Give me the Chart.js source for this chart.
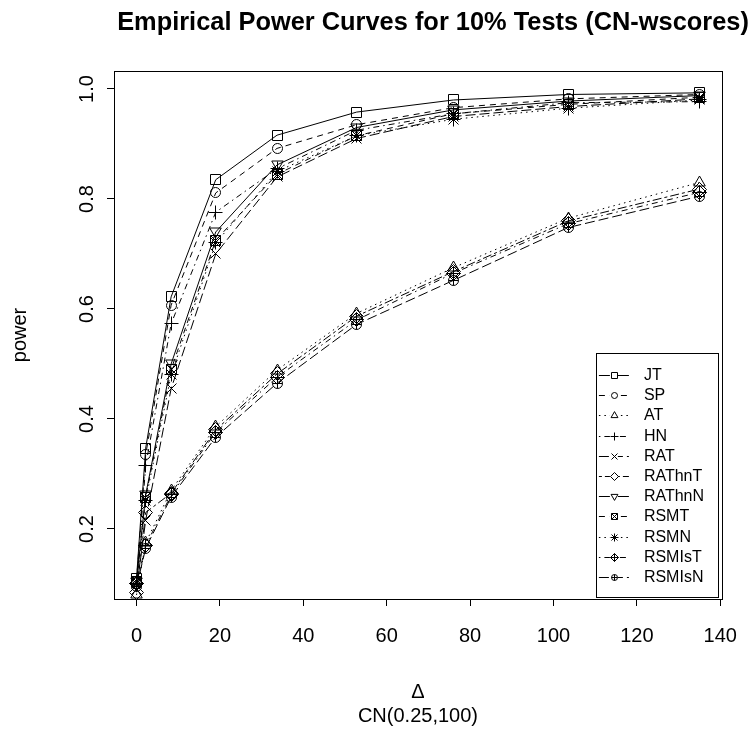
<!DOCTYPE html>
<html>
<head>
<meta charset="utf-8">
<title>Empirical Power Curves</title>
<script src="https://cdn.jsdelivr.net/npm/chart.js@4.4.1/dist/chart.umd.min.js"></script>
<style>
  html, body { margin: 0; padding: 0; background: #fff; }
  canvas { display: block; }
</style>
</head>
<body>
<canvas id="powerChart" width="755" height="738"></canvas>
<script>
// shift values (x axis)
var deltas = [0, 2.2, 8.3, 19, 33.7, 52.8, 76, 103.5, 135];

// empirical power, one array per test
var JT     = [0.110, 0.347, 0.622, 0.835, 0.916, 0.958, 0.980, 0.990, 0.993];
var SP     = [0.105, 0.335, 0.607, 0.811, 0.892, 0.935, 0.966, 0.982, 0.990];
var AT     = [0.080, 0.175, 0.270, 0.386, 0.489, 0.592, 0.675, 0.765, 0.830];
var HN     = [0.100, 0.315, 0.573, 0.776, 0.855, 0.925, 0.955, 0.975, 0.977];
var RAT    = [0.090, 0.216, 0.455, 0.700, 0.840, 0.910, 0.950, 0.968, 0.982];
var RAThnT = [0.085, 0.230, 0.265, 0.380, 0.482, 0.587, 0.668, 0.760, 0.818];
var RAThnN = [0.105, 0.262, 0.500, 0.740, 0.862, 0.930, 0.962, 0.978, 0.988];
var RSMT   = [0.105, 0.258, 0.490, 0.725, 0.845, 0.915, 0.955, 0.972, 0.985];
var RSMN   = [0.100, 0.252, 0.480, 0.720, 0.850, 0.915, 0.945, 0.965, 0.980];
var RSMIsT = [0.100, 0.170, 0.262, 0.376, 0.476, 0.580, 0.665, 0.755, 0.812];
var RSMIsN = [0.095, 0.165, 0.258, 0.367, 0.465, 0.572, 0.652, 0.748, 0.805];

var testNames = ['JT', 'SP', 'AT', 'HN', 'RAT', 'RAThnT', 'RAThnN', 'RSMT', 'RSMN', 'RSMIsT', 'RSMIsN'];
var testPower = [JT, SP, AT, HN, RAT, RAThnT, RAThnN, RSMT, RSMN, RSMIsT, RSMIsN];

// tick labels
var xTicks = [0, 20, 40, 60, 80, 100, 120, 140];
var yTicks = [0.2, 0.4, 0.6, 0.8, 1.0];

var FONT = '"Liberation Sans", Arial, sans-serif';

// R style line types, cycling 1..6
var dashes = [
  [],
  [6, 5],
  [1.5, 4],
  [1.5, 4, 6, 4],
  [10, 4],
  [3, 3, 9, 3]
];

// R pch style symbols 0..10
function drawSymbol(ctx, pch, x, y, s) {
  var d = Math.round(s * 1.4);
  ctx.beginPath();
  if (pch === 0 || pch === 7) {
    ctx.rect(x - s, y - s, 2 * s, 2 * s);
  }
  if (pch === 1 || pch === 10) {
    ctx.arc(x, y, s, 0, 2 * Math.PI);
  }
  if (pch === 2) {
    ctx.moveTo(x, y - 1.3 * s);
    ctx.lineTo(x + 1.15 * s, y + 0.7 * s);
    ctx.lineTo(x - 1.15 * s, y + 0.7 * s);
    ctx.closePath();
  }
  if (pch === 6) {
    ctx.moveTo(x, y + 1.3 * s);
    ctx.lineTo(x + 1.15 * s, y - 0.7 * s);
    ctx.lineTo(x - 1.15 * s, y - 0.7 * s);
    ctx.closePath();
  }
  if (pch === 5 || pch === 9) {
    ctx.moveTo(x, y - d);
    ctx.lineTo(x + d, y);
    ctx.lineTo(x, y + d);
    ctx.lineTo(x - d, y);
    ctx.closePath();
  }
  if (pch === 3 || pch === 8 || pch === 9) {
    ctx.moveTo(x - d, y); ctx.lineTo(x + d, y);
    ctx.moveTo(x, y - d); ctx.lineTo(x, y + d);
  }
  if (pch === 10) {
    ctx.moveTo(x - s, y); ctx.lineTo(x + s, y);
    ctx.moveTo(x, y - s); ctx.lineTo(x, y + s);
  }
  if (pch === 4 || pch === 7 || pch === 8) {
    ctx.moveTo(x - s, y - s); ctx.lineTo(x + s, y + s);
    ctx.moveTo(x + s, y - s); ctx.lineTo(x - s, y + s);
  }
  ctx.stroke();
}

// symbol drawn once on a small canvas, used as the point style
function symbolImage(pch, s) {
  var c = document.createElement('canvas');
  var n = 2 * Math.ceil(1.5 * s) + 3;
  c.width = n;
  c.height = n;
  var g = c.getContext('2d');
  g.strokeStyle = '#000';
  g.lineWidth = 1;
  drawSymbol(g, pch, n / 2, n / 2, s);
  return c;
}

var datasets = testNames.map(function (name, i) {
  return {
    label: name,
    data: deltas.map(function (d, j) { return { x: d, y: testPower[i][j] }; }),
    borderColor: '#000',
    borderWidth: 1,
    borderDash: dashes[i % 6],
    backgroundColor: 'rgba(0,0,0,0)',
    pointStyle: symbolImage(i, 5),
    pointRadius: 5,
    pch: i,
    tension: 0,
    fill: false
  };
});

var rDecor = {
  id: 'rDecor',
  beforeDatasetsDraw: function (chart) {
    chart.ctx.imageSmoothingEnabled = false;
  },
  afterDraw: function (chart) {
    var ctx = chart.ctx;
    var ca = chart.chartArea;
    var ys = chart.scales.y;
    ctx.save();

    // plot frame
    ctx.strokeStyle = '#000';
    ctx.lineWidth = 1;
    ctx.strokeRect(Math.round(ca.left) + 0.5, Math.round(ca.top) + 0.5,
      Math.round(ca.right - ca.left), Math.round(ca.bottom - ca.top));

    // main title
    ctx.fillStyle = '#000';
    ctx.font = 'bold 25.4px ' + FONT;
    ctx.textAlign = 'center';
    ctx.textBaseline = 'middle';
    ctx.fillText('Empirical Power Curves for 10% Tests (CN-wscores)', 433, 23);

    // y tick labels, rotated like R
    ctx.font = '20px ' + FONT;
    yTicks.forEach(function (v) {
      var py = ys.getPixelForValue(v);
      ctx.save();
      ctx.translate(ca.left - 27, py);
      ctx.rotate(-Math.PI / 2);
      ctx.fillText(v.toFixed(1), 0, 0);
      ctx.restore();
    });

    // legend box, bottom right of the plot
    var lw = 122, lh = 244;
    var lx = ca.right - 4 - lw;
    var ly = ca.bottom - 2 - lh;
    ctx.fillStyle = '#fff';
    ctx.fillRect(lx, ly, lw, lh);
    ctx.strokeRect(Math.round(lx) + 0.5, Math.round(ly) + 0.5, lw, lh);
    ctx.font = '16px ' + FONT;
    ctx.textAlign = 'left';
    chart.data.datasets.forEach(function (ds, i) {
      var yy = Math.round(ly + 22 + i * 20.2) + 0.5;
      ctx.setLineDash(ds.borderDash);
      ctx.beginPath();
      ctx.moveTo(lx + 3, yy);
      ctx.lineTo(lx + 33, yy);
      ctx.stroke();
      ctx.setLineDash([]);
      ctx.fillStyle = '#fff';
      ctx.fillRect(lx + 14, yy - 4, 8, 8);
      drawSymbol(ctx, ds.pch, Math.round(lx + 18) + 0.5, yy, 3);
      ctx.fillStyle = '#000';
      ctx.fillText(ds.label, lx + 48, yy);
    });
    ctx.restore();
  }
};

new Chart(document.getElementById('powerChart'), {
  type: 'line',
  data: { datasets: datasets },
  options: {
    responsive: false,
    animation: false,
    devicePixelRatio: 1,
    layout: {
      padding: { top: 71, right: 32, left: 0, bottom: 0 }
    },
    plugins: {
      legend: { display: false },
      tooltip: { enabled: false },
      title: { display: false }
    },
    scales: {
      x: {
        type: 'linear',
        min: -5.4,
        max: 140.4,
        afterBuildTicks: function (scale) {
          scale.ticks = xTicks.map(function (v) { return { value: v }; });
        },
        afterFit: function (scale) { scale.height = 139; },
        grid: { drawOnChartArea: false, drawTicks: true, tickLength: 7, color: '#000' },
        border: { display: true, color: '#000' },
        ticks: { color: '#000', font: { family: FONT, size: 20 }, padding: 18, maxRotation: 0, autoSkip: false },
        title: {
          display: true,
          text: ['\u0394', 'CN(0.25,100)'],
          color: '#000',
          font: { family: FONT, size: 20, lineHeight: 1.2 },
          padding: { top: 0, bottom: 10 }
        }
      },
      y: {
        type: 'linear',
        min: 0.0727,
        max: 1.0327,
        afterBuildTicks: function (scale) {
          scale.ticks = yTicks.map(function (v) { return { value: v }; });
        },
        afterFit: function (scale) { scale.width = 114; },
        grid: { drawOnChartArea: false, drawTicks: true, tickLength: 7, color: '#000' },
        border: { display: true, color: '#000' },
        ticks: { display: false },
        title: {
          display: true,
          text: 'power',
          color: '#000',
          font: { family: FONT, size: 20 },
          padding: { top: 8, bottom: 0 }
        }
      }
    }
  },
  plugins: [rDecor]
});
</script>
</body>
</html>
